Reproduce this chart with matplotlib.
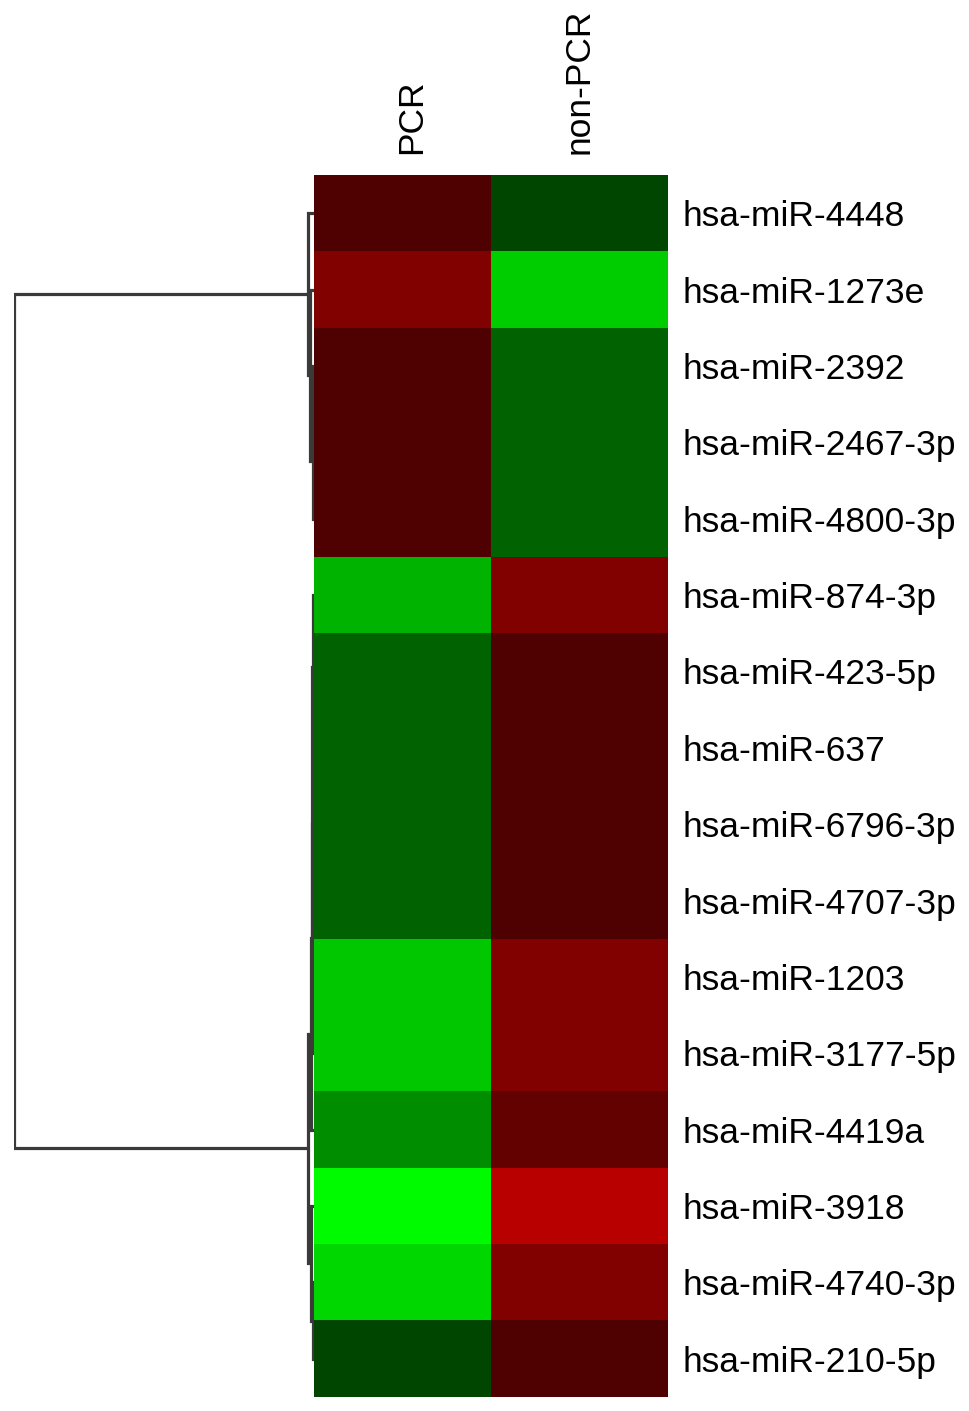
import numpy as np
import matplotlib
matplotlib.use("Agg")
import matplotlib.pyplot as plt
import matplotlib.transforms as mtransforms
from matplotlib.colors import LinearSegmentedColormap

plt.rcParams['font.family'] = ['Liberation Sans', 'DejaVu Sans']

# --- data ---
mirnas = ["hsa-miR-4448", "hsa-miR-1273e", "hsa-miR-2392", "hsa-miR-2467-3p",
          "hsa-miR-4800-3p", "hsa-miR-874-3p", "hsa-miR-423-5p", "hsa-miR-637",
          "hsa-miR-6796-3p", "hsa-miR-4707-3p", "hsa-miR-1203", "hsa-miR-3177-5p",
          "hsa-miR-4419a", "hsa-miR-3918", "hsa-miR-4740-3p", "hsa-miR-210-5p"]
groups = ["PCR", "non-PCR"]

# relative expression (green = low, red = high)
pcr = [0.31, 0.50, 0.31, 0.31, 0.31, -0.70, -0.39, -0.39,
       -0.39, -0.39, -0.78, -0.78, -0.55, -0.98, -0.84, -0.27]
non_pcr = [-0.27, -0.80, -0.39, -0.39, -0.39, 0.50, 0.31, 0.31,
           0.31, 0.31, 0.50, 0.50, 0.39, 0.72, 0.50, 0.31]

# row dendrogram merges: (left node, right node, height); new nodes numbered from 16
merges = [(2, 3, 0.002), (16, 4, 0.004), (1, 17, 0.012), (0, 18, 0.02),
          (8, 9, 0.002), (7, 20, 0.003), (6, 21, 0.004), (5, 22, 0.005),
          (23, 10, 0.007), (24, 11, 0.008), (25, 12, 0.010),
          (14, 15, 0.004), (13, 27, 0.010), (26, 28, 0.02),
          (19, 29, 1.0)]

values = np.column_stack([pcr, non_pcr])
n = len(mirnas)

W, H = 969, 1411
fig = plt.figure(figsize=(W / 100, H / 100), dpi=100)

hm_left, hm_right, hm_top, hm_bottom = 314, 668, 175, 1397
ax = fig.add_axes([hm_left / W, 1 - hm_bottom / H,
                   (hm_right - hm_left) / W, (hm_bottom - hm_top) / H])

cmap = LinearSegmentedColormap.from_list("gkr", [(0, 1, 0), (0, 0, 0), (1, 0, 0)])
ax.imshow(values, cmap=cmap, vmin=-1, vmax=1, aspect='auto', interpolation='nearest')
ax.set_xticks(range(len(groups)))
ax.set_xticklabels(groups, rotation=90, fontsize=25.5)
ax.xaxis.tick_top()
ax.set_yticks(range(n))
ax.set_yticklabels(mirnas, fontsize=25.5)
ax.yaxis.tick_right()
ax.tick_params(axis='x', length=0, pad=15)
ax.tick_params(axis='y', length=0, pad=10.5)
# the PCR header sits a little right of its column centre in the original
shift = mtransforms.ScaledTranslation(9 / 100, 0, fig.dpi_scale_trans)
lbl = ax.get_xticklabels()[0]
lbl.set_transform(lbl.get_transform() + shift)
for s in ax.spines.values():
    s.set_visible(False)

# dendrogram on the left
dax = fig.add_axes([14 / W, 1 - hm_bottom / H, (hm_left - 14) / W, (hm_bottom - hm_top) / H])
pos = {i: (float(i), 0.0) for i in range(n)}
for k, (a, b, h) in enumerate(merges):
    ya, ha = pos[a]
    yb, hb = pos[b]
    dax.plot([ha, h, h, hb], [ya, ya, yb, yb], color='#3a3a3a', lw=2.3,
             solid_capstyle='butt', solid_joinstyle='miter')
    pos[n + k] = ((ya + yb) / 2, h)
dax.set_xlim(1.0, 0.0)
dax.set_ylim(n - 0.5, -0.5)
dax.axis('off')

fig.savefig("out.png", dpi=100)
